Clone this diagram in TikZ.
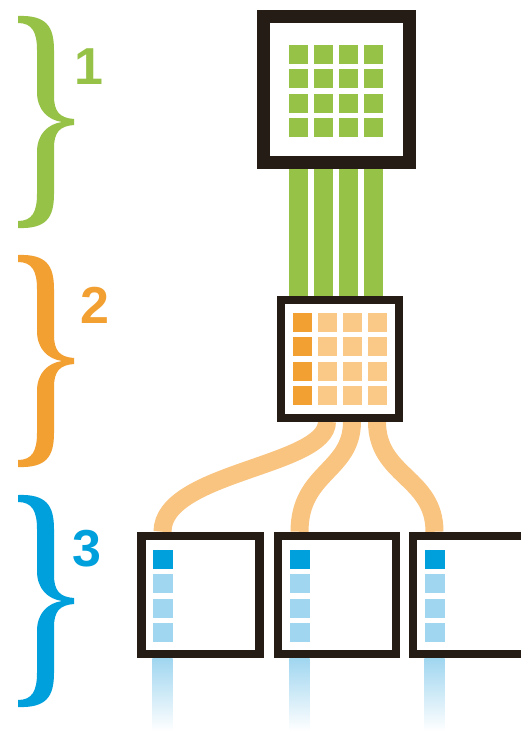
\documentclass[tikz,border=0pt]{standalone}
\usepackage{fontspec}
\setsansfont{Liberation Sans}
\usetikzlibrary{backgrounds}

\definecolor{frame}{RGB}{38,28,22}
\definecolor{leaf}{RGB}{150,194,72}
\definecolor{amber}{RGB}{242,160,50}
\definecolor{amberlt}{RGB}{250,201,135}
\definecolor{wirecol}{RGB}{249,196,128}
\definecolor{sky}{RGB}{0,160,221}
\definecolor{skylt}{RGB}{160,214,240}

\newcommand{\tiernum}{\sffamily\bfseries\fontsize{52}{52}\selectfont}
\newcommand{\curl}[2]{%
  \fill[#1, shift={(0,#2)}] (18,-106) .. controls (46,-107) and (54,-96) .. (54,-72) -- (54,-26)
    .. controls (54,-10) and (60,-4) .. (74,-3) -- (74,3) .. controls (60,4) and (54,10) .. (54,26)
    -- (54,72) .. controls (54,96) and (46,107) .. (18,106) -- (18,99)
    .. controls (32,99) and (37,90) .. (37,72) -- (37,30) .. controls (37,12) and (48,2) .. (62,0)
    .. controls (48,-2) and (37,-12) .. (37,-30) -- (37,-72) .. controls (37,-90) and (32,-99) .. (18,-99) -- cycle;}

\begin{document}
\begin{tikzpicture}[x=1pt, y=-1pt,
  cellbox/.style={draw=frame, fill=white, inner sep=0pt, minimum size=#1},
  sq/.style={fill=#1, inner sep=0pt, minimum size=19pt},
  bar/.style={draw=leaf, line width=19pt},
  wire/.style={draw=wirecol, line width=18pt}]
  \useasboundingbox (0,0) rectangle (521,731);

  \curl{leaf}{122}
  \curl{amber}{361}
  \curl{sky}{601}
  \node[font=\tiernum, text=leaf] (lab1) at (89,67) {1};
  \node[font=\tiernum, text=amber] (lab2) at (95,305) {2};
  \node[font=\tiernum, text=sky] (lab3) at (87,549) {3};

  \node[cellbox=146pt, line width=13pt] (chip) at (336.5,89) {};
  \node[cellbox=118pt, line width=8pt] (hub) at (340,358.5) {};
  \foreach \n/\x in {A/200.5, B/337, C/472} { \node[cellbox=118pt, line width=8.5pt] (cell\n) at (\x,595) {}; }

  \foreach \c in {1,...,4} \foreach \r in {1,...,4} {
    \node[sq=leaf] (g-\c-\r) at ({336+(\c-2.5)*25}, {91+(\r-2.5)*24.3}) {};
  }
  \foreach \c/\col in {1/amber, 2/amberlt, 3/amberlt, 4/amberlt} \foreach \r in {1,...,4} {
    \node[sq=\col] (o-\c-\r) at ({339.5+(\c-2.5)*25}, {359+(\r-2.5)*24.3}) {};
  }
  \foreach \n/\x in {A/162.5, B/299.5, C/434.5} \foreach \r/\col in {1/sky, 2/skylt, 3/skylt, 4/skylt} {
    \node[sq=\col, minimum width=20pt] (b-\n-\r) at (\x, {559.5+(\r-1)*24.3}) {};
  }

  \begin{scope}[on background layer]
    \foreach \c in {1,...,4} { \draw[bar] (g-\c-4 |- chip.south) -- (g-\c-4 |- hub.north); }
    \draw[wire] (o-2-4 |- hub.south) .. controls +(0,45) and +(0,-60) .. (b-A-1 |- cellA.north);
    \draw[wire] (o-3-4 |- hub.south) .. controls +(0,50) and +(0,-60) .. (b-B-1 |- cellB.north);
    \draw[wire] (o-4-4 |- hub.south) .. controls +(0,55) and +(0,-55) .. (b-C-1 |- cellC.north);
    \foreach \n in {A, B, C} {
      \coordinate (end\n) at (b-\n-1 |- 0,731);
      \shade[top color=skylt, bottom color=white] (b-\n-1.west |- cell\n.south) rectangle (b-\n-1.east |- end\n);
    }
  \end{scope}
\end{tikzpicture}
\end{document}
